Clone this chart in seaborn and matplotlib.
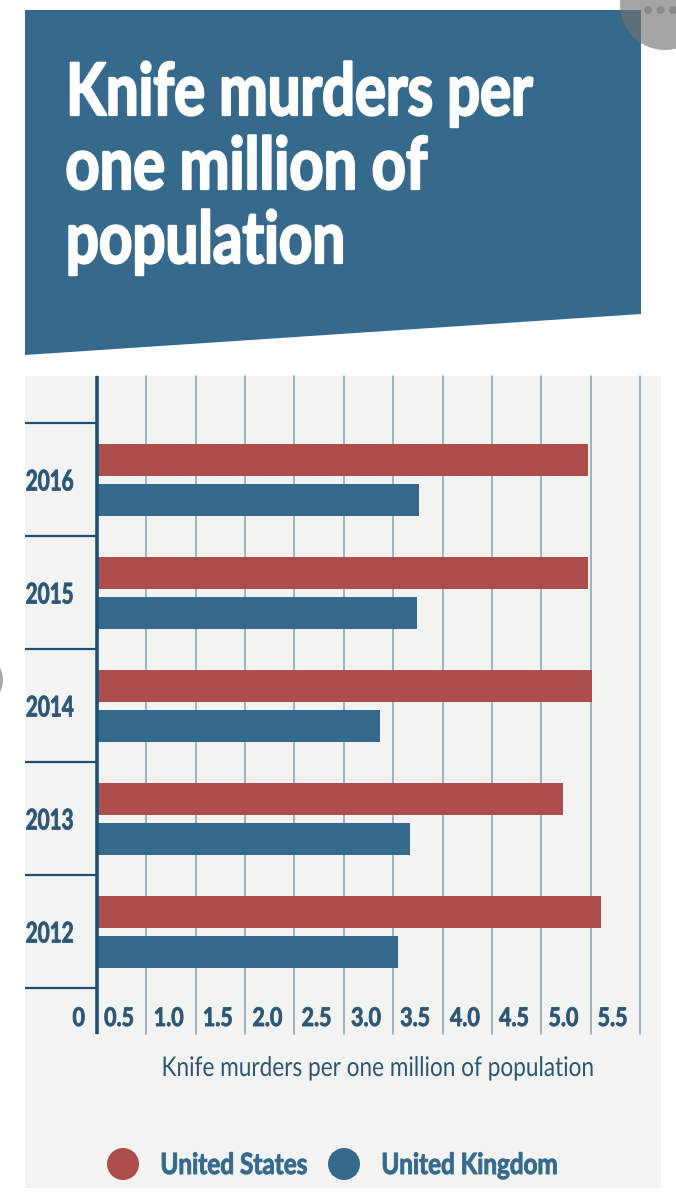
import matplotlib
matplotlib.use('Agg')
import matplotlib.pyplot as plt
from matplotlib.patches import Polygon, Rectangle, Circle
from matplotlib.patheffects import AbstractPathEffect
from matplotlib.transforms import Affine2D, ScaledTranslation
import pandas as pd
import seaborn as sns

years = ['2016', '2015', '2014', '2013', '2012']
us_values = [4.97, 4.97, 5.01, 4.72, 5.11]
uk_values = [3.26, 3.24, 2.87, 3.17, 3.05]
x_ticks = [0, 0.5, 1.0, 1.5, 2.0, 2.5, 3.0, 3.5, 4.0, 4.5, 5.0, 5.5]
x_labels = ['0', '0.5', '1.0', '1.5', '2.0', '2.5', '3.0', '3.5', '4.0', '4.5', '5.0', '5.5']
series_names = ['United States', 'United Kingdom']
title_lines = ['Knife murders per', 'one million of', 'population']
x_title = 'Knife murders per one million of population'

RED = '#AE4E4C'
BLUE = '#366A8C'
DARK = '#1F4E70'
TEXT = '#2C5674'
GRID = '#8FA6B5'
PANEL = '#F3F3F1'


# no narrow font is installed, so squeeze the glyphs of the real text sideways
# and stroke them a little to get the stem weight back
class Squeeze(AbstractPathEffect):
    def __init__(self, sx, anchor='left', stroke=0):
        super().__init__()
        self.sx = sx
        self.anchor = anchor
        self.stroke = stroke

    def draw_path(self, renderer, gc, tpath, affine, rgbFace=None):
        box = tpath.get_extents()
        p = {'left': box.x0, 'right': box.x1, 'center': (box.x0 + box.x1) / 2}[self.anchor]
        squeezed = Affine2D().translate(-p, 0).scale(self.sx, 1).translate(p, 0) + affine
        gc0 = renderer.new_gc()
        gc0.copy_properties(gc)
        gc0.set_linewidth(self.stroke)
        if self.stroke:
            gc0.set_foreground(rgbFace)
        renderer.draw_path(gc0, tpath, squeezed, rgbFace)
        gc0.restore()


def fit(text, width, anchor='left', stroke=0):
    # width is the wanted width in pixels
    sx = width / text.get_window_extent(fig.canvas.get_renderer()).width
    text.set_path_effects([Squeeze(sx, anchor, stroke)])


sns.set_theme(style='white')
plt.rcParams['font.family'] = ['Lato', 'DejaVu Sans']

W, H = 676, 1200
fig = plt.figure(figsize=(W / 100, H / 100), dpi=100, facecolor='white')

# background layer in pixel coordinates
bg = fig.add_axes([0, 0, 1, 1])
bg.set_xlim(0, W)
bg.set_ylim(H, 0)
bg.axis('off')
bg.add_patch(Rectangle((25, 376), 636, 812, color=PANEL, lw=0))
bg.add_patch(Polygon([(25, 10), (641, 10), (641, 314), (25, 355)], color=BLUE, lw=0))
bg.add_patch(Circle((665, 5), 45, color='#727272', alpha=0.64, lw=0))
for cx in (648, 660.5, 673):
    bg.add_patch(Circle((cx, 10), 4, color='#8a8a8a', lw=0))
bg.add_patch(Circle((-25, 680), 28, color='#a8a8a8', lw=0))

for line, base, width in zip(title_lines, (115, 189, 263), (466, 361, 279)):
    t = bg.text(65, base, line, color='white', fontsize=52, fontweight='bold', va='baseline')
    fit(t, width, stroke=1.6)

# chart
df = pd.DataFrame({
    'year': years * 2,
    'value': us_values + uk_values,
    'country': [series_names[0]] * 5 + [series_names[1]] * 5,
})

left, right, top, bottom = 97, 640, 376, 1034
ax = fig.add_axes([left / W, 1 - bottom / H, (right - left) / W, (bottom - top) / H])
ax.patch.set_alpha(0)
sns.barplot(data=df, y='year', x='value', hue='country', order=years, orient='h',
            palette=[RED, BLUE], width=0.708, gap=0.2, saturation=1, legend=False,
            linewidth=0, ax=ax, zorder=3)
ax.set_xlim(0, 5.5)
ax.set_ylim(4.903, -0.92)
ax.set_xlabel('')
ax.set_ylabel('')

for side in ('top', 'right', 'bottom'):
    ax.spines[side].set_visible(False)
ax.spines['left'].set_color(DARK)
ax.spines['left'].set_linewidth(2.6)
ax.spines['left'].set_capstyle('butt')
ax.spines['left'].set_zorder(5)

ax.set_xticks(x_ticks, x_labels)
ax.grid(axis='x', color=GRID, lw=1.2, zorder=0, clip_on=False)
ax.set_axisbelow(True)
ax.tick_params(axis='x', length=0, pad=0, labelsize=18.5, labelcolor=TEXT)
shift = ScaledTranslation(-12 / 100, 28 / 100, fig.dpi_scale_trans)
for lab in ax.get_xticklabels():
    lab.set_ha('right')
    lab.set_fontweight('bold')
    lab.set_transform(lab.get_transform() + shift)

# year separators are the major ticks, year names sit on minor ticks
ax.set_yticks([i - 0.5 for i in range(6)], [''] * 6)
ax.set_yticks(list(range(5)), years, minor=True)
ax.tick_params(axis='y', which='major', left=True, length=72 * 0.72, width=1.6, color=DARK)
ax.tick_params(axis='y', which='minor', left=False, length=0, pad=16.5, labelsize=20.5, labelcolor=TEXT)
for lab in ax.get_yticklabels(minor=True):
    lab.set_fontweight('bold')

# squeeze the tick labels once their fonts are final
fig.canvas.draw()
sample = ax.get_xticklabels()[1]
tick_sx = 30 / sample.get_window_extent(fig.canvas.get_renderer()).width
for lab in ax.get_xticklabels():
    lab.set_path_effects([Squeeze(tick_sx, 'right', 0.6)])
for lab in ax.get_yticklabels(minor=True):
    fit(lab, 48, 'right', 0.6)

xt = bg.text(378, 1076, x_title, color=TEXT, fontsize=19.5, ha='center', va='baseline')
fit(xt, 433, 'center')

# legend
for cx, col, name, tx, width in zip((123, 344), (RED, BLUE), series_names, (160, 381), (147, 176)):
    bg.add_patch(Circle((cx, 1164), 16, color=col, lw=0))
    t = bg.text(tx, 1174, name, color=BLUE, fontsize=21, fontweight='bold', va='baseline')
    fit(t, width, stroke=0.7)

fig.savefig('out.png', dpi=100)
